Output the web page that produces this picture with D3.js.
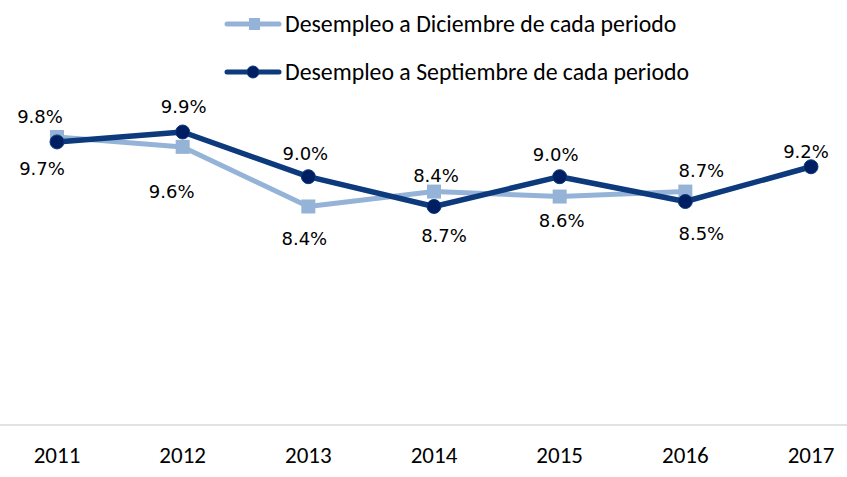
<!DOCTYPE html>
<html>
<head>
<meta charset="utf-8">
<script src="https://cdn.jsdelivr.net/npm/d3@7"></script>
<style>
  html, body { margin: 0; padding: 0; background: #fff; }
  svg { display: block; }
</style>
</head>
<body>
<div id="vis"></div>
<script>
const years = ["2011", "2012", "2013", "2014", "2015", "2016", "2017"];
const diciembre = [9.8, 9.6, 8.4, 8.7, 8.6, 8.7, null];
const septiembre = [9.7, 9.9, 9.0, 8.4, 9.0, 8.5, 9.2];
const seriesNames = ["Desempleo a Diciembre de cada periodo", "Desempleo a Septiembre de cada periodo"];

// label nudges (dx, dy from the marker), hand placed like in the original sheet
const dicLabelNudge = [[-17, -14], [-11, 51], [-4, 39], [10, 50], [2, 30], [16, -15], null];
const sepLabelNudge = [[-15, 33], [1, -19], [-3, -17], [2, -24], [-4, -16], [16, 38], [-5, -9]];

const width = 847, height = 477;
const lightBlue = "#95b3d7", navyLine = "#0c3a7c", navyMarker = "#001f63";

const svg = d3.select("#vis").append("svg")
  .attr("width", width)
  .attr("height", height);

const x = d3.scalePoint().domain(years).range([57, 811]);
const y = d3.scaleLinear().domain([4, 12]).range([425, 27.7]);

// baseline
svg.append("line")
  .attr("x1", 0).attr("x2", width)
  .attr("y1", y(4)).attr("y2", y(4))
  .style("stroke", "#d9d9d9")
  .style("stroke-width", 1.5);

// year labels
svg.selectAll(".year")
  .data(years)
  .enter().append("text")
  .attr("class", "year")
  .attr("x", d => x(d))
  .attr("y", 463)
  .attr("text-anchor", "middle")
  .style("font-family", "Carlito, Lato, sans-serif")
  .style("font-size", "23px")
  .style("fill", "#000")
  .text(d => d);

const line = d3.line()
  .defined(d => d.v != null)
  .x(d => x(d.year))
  .y(d => y(d.v));

const dicData = years.map((yr, i) => ({ year: yr, v: diciembre[i], nudge: dicLabelNudge[i] }));
const sepData = years.map((yr, i) => ({ year: yr, v: septiembre[i], nudge: sepLabelNudge[i] }));

// Diciembre series
svg.append("path")
  .datum(dicData)
  .attr("d", line)
  .style("fill", "none")
  .style("stroke", lightBlue)
  .style("stroke-width", 5)
  .style("stroke-linejoin", "round");

svg.selectAll(".sq")
  .data(dicData.filter(d => d.v != null))
  .enter().append("rect")
  .attr("class", "sq")
  .attr("x", d => x(d.year) - 7)
  .attr("y", d => y(d.v) - 7)
  .attr("width", 14)
  .attr("height", 14)
  .style("fill", lightBlue);

// Septiembre series
svg.append("path")
  .datum(sepData)
  .attr("d", line)
  .style("fill", "none")
  .style("stroke", navyLine)
  .style("stroke-width", 5.5)
  .style("stroke-linejoin", "round");

svg.selectAll(".dot")
  .data(sepData)
  .enter().append("circle")
  .attr("class", "dot")
  .attr("cx", d => x(d.year))
  .attr("cy", d => y(d.v))
  .attr("r", 7)
  .style("fill", navyMarker)
  .style("stroke", navyLine)
  .style("stroke-width", 1);

// data labels
const fmt = d => d.v.toFixed(1) + "%";
svg.selectAll(".lbl")
  .data(dicData.filter(d => d.v != null).concat(sepData))
  .enter().append("text")
  .attr("class", "lbl")
  .attr("x", d => x(d.year) + d.nudge[0])
  .attr("y", d => y(d.v) + d.nudge[1])
  .attr("text-anchor", "middle")
  .style("font-family", "'DejaVu Sans', sans-serif")
  .style("font-size", "18px")
  .style("fill", "#000")
  .text(fmt);

// legend
const legend = svg.append("g").attr("class", "legend");
const legendRows = [
  { name: seriesNames[0], color: lightBlue, cy: 24, marker: "square" },
  { name: seriesNames[1], color: navyLine, cy: 72, marker: "circle" }
];

legendRows.forEach(r => {
  legend.append("line")
    .attr("x1", 227).attr("x2", 279)
    .attr("y1", r.cy).attr("y2", r.cy)
    .style("stroke", r.color)
    .style("stroke-width", 5)
    .style("stroke-linecap", "round");
  if (r.marker === "square") {
    legend.append("rect")
      .attr("x", 249).attr("y", r.cy - 6)
      .attr("width", 11).attr("height", 12)
      .style("fill", lightBlue);
  } else {
    legend.append("circle")
      .attr("cx", 253).attr("cy", r.cy).attr("r", 6)
      .style("fill", navyMarker)
      .style("stroke", navyLine);
  }
  legend.append("text")
    .attr("x", 285)
    .attr("y", r.cy + 7.5)
    .style("font-family", "Carlito, Lato, sans-serif")
    .style("font-size", "23.8px")
    .style("fill", "#000")
    .text(r.name);
});
</script>
</body>
</html>
